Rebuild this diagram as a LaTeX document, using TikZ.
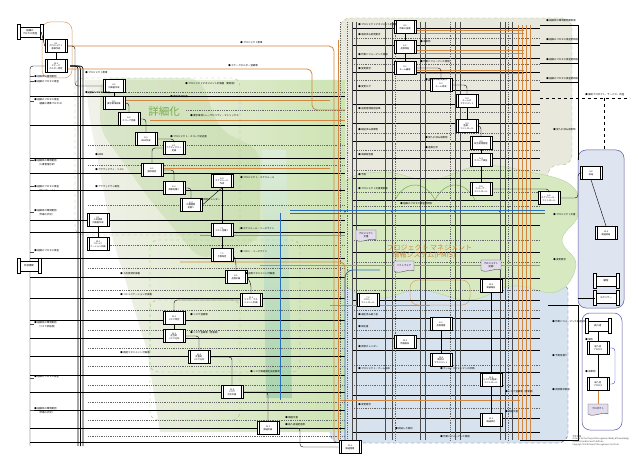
\documentclass[tikz,border=0pt]{standalone}
\usepackage{fontspec}
\setmainfont{Noto Sans CJK JP}
\usetikzlibrary{calc}
\definecolor{orl}{RGB}{210,135,65}
\definecolor{grl}{RGB}{120,170,80}
\definecolor{bgreen}{RGB}{205,228,178}
\definecolor{beige}{RGB}{232,232,220}
\definecolor{bluel}{RGB}{214,226,238}
\definecolor{blueline}{RGB}{40,110,190}
\definecolor{docfill}{RGB}{226,220,236}
\definecolor{panelc}{RGB}{222,228,240}
\definecolor{teal1}{RGB}{110,185,140}
\newcommand\tinyf{\fontsize{2.4}{2.8}\selectfont}
\newcommand\storebars[1]{%
  \draw[line width=0.6, fill=white] ($(#1.north west)+(-1.6,-2)$) rectangle ($(#1.south west)+(1.2,2)$);
  \draw[line width=0.6, fill=white] ($(#1.north east)+(-1.2,-2)$) rectangle ($(#1.south east)+(1.6,2)$);}
\tikzset{
  proc/.style={draw=black, line width=0.6, fill=white, minimum width=22, minimum height=13,
    inner sep=0.3, align=center, font=\fontsize{2.2}{2.6}\selectfont,
    path picture={\draw[line width=0.4]
      ([xshift=1.8pt]path picture bounding box.south west) -- ([xshift=1.8pt]path picture bounding box.north west)
      ([xshift=-1.8pt]path picture bounding box.south east) -- ([xshift=-1.8pt]path picture bounding box.north east);}},
  store/.style={draw, line width=0.5, fill=white, minimum height=10, minimum width=20, inner sep=0.3, align=center, font=\tinyf},
  lbl/.style={font=\tinyf, inner sep=0.2, anchor=west, align=left},
  bline/.style={black, line width=0.4},
  thinl/.style={black!70, line width=0.25},
  dline/.style={black!60, line width=0.3, dashed, dash pattern=on 1pt off 0.8pt},
  oline/.style={orl, line width=0.8, rounded corners=5},
  docpic/.pic={\draw[fill=docfill, draw=black!70, line width=0.4] (-10,-6) -- (10,-6) -- (10,4) .. controls (5,1) and (-5,8) .. (-10,4) -- cycle;}
}
\begin{document}
\begin{tikzpicture}[x=1pt,y=-1pt]
\useasboundingbox (0,0) rectangle (638,468);
\fill[white] (0,0) rectangle (638,468);

% ---------- background regions ----------
\draw[fill=beige, draw=grl!70, dashed, line width=0.4, rounded corners=10]
  (340,18) -- (572,18) -- (572,165) -- (548,165) -- (548,300) -- (340,300) -- cycle;
\draw[fill=bluel, draw=blue!40!gray, dashed, line width=0.4, rounded corners=10]
  (330,282) -- (568,282) -- (568,443) -- (330,443) -- cycle;
\draw[fill=bgreen!80, draw=grl!60, line width=0.3]
  plot[smooth cycle, tension=0.7] coordinates {(345,182) (385,172) (430,180) (480,166) (530,172) (572,186)
  (578,215) (562,240) (576,265) (556,292) (512,286) (470,300) (420,290) (380,298) (346,286) (336,255) (342,220)};
\shade[left color=beige!60, right color=bgreen] (85,80) -- (345,80) -- (345,432) -- (160,432) -- (147,350) -- (113,240) -- (90,120) -- cycle;
\fill[bgreen!70!grl, opacity=0.35, rounded corners=12] (100,78) -- (200,78) -- (220,130) -- (260,150) -- (260,240) -- (200,260) -- (150,200) -- (100,130) -- cycle;
\shade[top color=teal1!20, bottom color=teal1!80, opacity=0.6] (262,150) -- (286,150) -- (292,398) -- (266,398) -- cycle;
\draw[grl!80, dashed, line width=0.35, rounded corners=8] (75,78) rectangle (240,235);
\draw[grl!80, dashed, line width=0.35, rounded corners=8] (150,240) rectangle (300,372);
\draw[orl!80, line width=0.5, rounded corners=8] (42,22) rectangle (72,78);
\draw[orl!80, line width=0.5, rounded corners=8] (410,280) rectangle (470,305);
\draw[grl!80, dashed, line width=0.35, rounded corners=8] (150,300) rectangle (240,420);
% right panels
\draw[fill=panelc, draw=blue!30!gray, line width=0.5, rounded corners=8] (578,150) rectangle (624,308);
\draw[fill=white, draw=blue!30!gray, line width=0.5, rounded corners=8] (582,313) rectangle (622,430);

% green arcs in beige area
\draw[grl, line width=0.5] (395,200) .. controls (405,180) and (425,180) .. (435,200) .. controls (445,180) and (465,180) .. (475,200);

% ---------- long horizontal lines, left ----------
\foreach \y in {96,125,158,173,190,220,232,258,277,298,320,338,356,375,392,410,428,442}
  \draw[bline] (30,\y) -- (345,\y);
\foreach \y in {92,145,165,205,245,268,290,310,330,348,366,385,402,420,436}
  \draw[dline] (88,\y) -- (345,\y);
\draw[dline] (186,110) -- (345,110);
% ---------- right region lines ----------
\foreach \y in {28,45,58,72,90,104,123,141,158,178,200,225,252,278,300,318,338,350,372,395,418,432}
  \draw[bline] (352,\y) -- (540,\y);
\foreach \y in {38,64,80,112,133,150,170,192,206,240,262,290,310,330,365,385,408}
  \draw[dline] (352,\y) -- (540,\y);
\foreach \x in {352,356,385,392,420,425,455,460,500,505,512}
  \draw[thinl] (\x,22) -- (\x,440);
\foreach \x in {340,347,395,450,508}
  \draw[dline] (\x,22) -- (\x,440);
% right strip lines
\foreach \y in {25,43,63,82}
  \draw[bline] (540,\y) -- (578,\y);
\draw[bline] (578,25) -- (578,160);
\draw[black, line width=0.5, dashed] (540,98) -- (630,98);
\draw[black, line width=0.5, dashed] (604,98) -- (604,150);
\draw[bline] (548,305) -- (578,305) -- (578,440) -- (520,440);

% left vertical bundle
\foreach \x in {78,80.5,83}
  \draw[black, line width=0.7, rounded corners=3] (70,66) -- (\x,66) -- (\x,446);
\draw[bline, rounded corners=3] (45,66) -- (30,66) -- (30,446);
\foreach \y in {76,81,101,160,186,212,252,324,378,410}
  \draw[thinl] (30,\y) -- (34,\y);

% orange lines
\draw[oline] (68,46) -- (334,46) -- (334,440);
\draw[oline] (68,69) -- (312,69) -- (312,110) -- (345,110);
\draw[oline] (125,100) -- (330,100);
\draw[oline] (150,120) -- (345,120);
\draw[oline] (160,168) -- (330,168);
\draw[oline] (200,235) -- (345,235);
\draw[oline] (180,262) -- (345,262) -- (345,300);
\draw[oline] (260,265) -- (540,265);
\draw[oline] (330,305) -- (430,305);
\draw[oline] (340,400) -- (520,400);
\foreach \y in {30,33,50,53,70,73}
  \draw[oline, line width=0.6] (417,\y) -- (524,\y);
\foreach \x in {518,522,526,530}
  \draw[oline, line width=0.6] (\x,25) -- (\x,440);
\draw[oline] (338,40) -- (338,440);

% blue lines
\draw[blueline, line width=0.9] (290,210) -- (545,210);
\draw[blueline, line width=0.6] (290,213.5) -- (545,213.5);
\draw[blueline, line width=0.8, rounded corners=6] (280,213.5) -- (280,400);
\draw[blueline, line width=0.8, rounded corners=8] (380,270) -- (345,270) -- (345,440);
\foreach \x in {345,392,455,500} \fill[blueline] (\x,211.5) circle (1.2);

% ---------- processes ----------
\foreach \n/\x/\y/\t in {
 a1/56/46/{4.1\\プロジェクト\\憲章作成},
 a2/56/66/{10.1\\ステーク\\ホルダー特定},
 p1/114/86/{4.2\\計画書作成},
 p2/114/103/{5.1\\要求事項収集},
 p3/129/119/{5.2\\スコープ定義},
 p4/146/139/{5.3\\WBS作成},
 p5/174/148/{6.1\\アクティビティ\\定義},
 p6/152/170/{6.2\\順序設定},
 p7/174/188/{6.3\\資源見積り},
 p8/191/205/{6.4\\所要期間\\見積り},
 p9/222/181/{6.5\\スケジュール\\作成},
 p10/222/230/{7.1\\コスト見積り},
 p11/98/220/{9.1\\人的資源\\計画書作成},
 p12/98/244/{10.2\\コミュニ\\ケーション計画},
 p13/222/255/{7.2\\予算設定},
 p14/236/277/{8.1\\品質計画},
 p15/251/300/{11.1\\リスク・マネ\\ジメント計画},
 p16/174/318/{11.2\\リスク特定},
 p17/174/336/{11.3\\定性的\\リスク分析},
 p18/199/357/{11.4\\定量的\\リスク分析},
 p19/232/392/{11.5\\リスク\\対応計画},
 p20/268/428/{12.1\\調達計画},
 e2/405/27/{4.3\\作業の指揮},
 e3/405/47/{8.2\\品質保証},
 e4/405/68/{9.2\\チーム編成},
 e5/441/85/{9.3\\チーム育成},
 e6/467/101/{9.4\\チームの\\マネジメント},
 e7/467/126/{4.4\\監視・\\コントロール},
 e8/481/143/{4.5\\統合変更管理},
 e9/481/160/{5.4\\スコープ検証},
 e10/481/189/{5.5\\スコープ・\\コントロール},
 e11/549/198/{6.6\\スケジュール・\\コントロール},
 e12/368/300/{7.3\\コスト・\\コントロール},
 e13/441/324/{8.3\\品質管理},
 e14/405/342/{10.3\\情報配布},
 e15/441/360/{10.4\\期待の\\マネジメント},
 e16/491/286/{10.5\\実績報告},
 e17/491/380/{11.6\\リスクの監視・\\コントロール},
 e18/491/420/{12.2\\調達実行},
 e19/350/447/{12.3\\調達管理},
 r1/591/173/{4.6\\終結},
 r2/606/233/{12.4\\調達終結},
 q1/598/348/{納入者\\プロセス},
 q2/598/384/{納入者\\プロセス}}
 \node[proc] (\n) at (\x,\y) {\t};

% connectors between processes
\draw[bline] (a1.south) -- (a2.north);
\draw[bline, rounded corners=3] (a1.east) -- (75,46) -- (75,86) -- (p1.west);
\draw[bline] (p1.south) -- (p2.north);
\draw[bline, rounded corners=3] (p2.east) -- (129,103) -- (p3.north);
\draw[bline, rounded corners=3] (p3.east) -- (146,119) -- (p4.north);
\draw[bline, rounded corners=3] (p4.east) -- (174,139) -- (p5.north);
\draw[bline, rounded corners=3] (p5.west) -- (152,148) -- (p6.north);
\draw[bline, rounded corners=3] (p6.east) -- (174,170) -- (p7.north);
\draw[bline, rounded corners=3] (p7.east) -- (191,188) -- (p8.north);
\draw[bline, rounded corners=3] (p8.east) -- (p9.south);
\draw[bline] (p9.south) -- (p10.north);
\draw[bline] (p10.south) -- (p13.north);
\draw[bline, rounded corners=3] (p13.east) -- (236,262) -- (p14.north);
\draw[bline, rounded corners=3] (p14.east) -- (251,284) -- (p15.north);
\draw[bline, rounded corners=3] (p15.west) -- (174,300) -- (p16.north);
\draw[bline] (p16.south) -- (p17.north);
\draw[bline, rounded corners=3] (p17.east) -- (199,336) -- (p18.north);
\draw[bline, rounded corners=3] (p18.east) -- (232,357) -- (p19.north);
\draw[bline, rounded corners=3] (p19.east) -- (268,392) -- (p20.north);
\draw[bline] (p11.south) -- (p12.north);
\draw[bline, rounded corners=3] (p20.east) -- (300,428) -- (300,447) -- (e19.west);
\draw[bline] (e2.south) -- (e3.north);
\draw[bline] (e3.south) -- (e4.north);
\draw[bline, rounded corners=3] (e4.east) -- (441,68) -- (e5.north);
\draw[bline, rounded corners=3] (e5.east) -- (467,85) -- (e6.north);
\draw[bline] (e6.south) -- (e7.north);
\draw[bline, rounded corners=3] (e7.east) -- (481,126) -- (e8.north);
\draw[bline] (e8.south) -- (e9.north);
\draw[bline] (e9.south) -- (e10.north);
\draw[bline, rounded corners=3] (e10.east) -- (549,189) -- (e11.north);
\draw[bline] (e13.south) -- (e15.north);
\draw[bline] (e16.south) -- (e17.north);
\draw[bline] (e17.south) -- (e18.north);
\draw[bline, rounded corners=3] (e11.east) -- (578,198) -- (578,173) -- (r1.west);
\draw[bline] (r1.south) -- (606,226);
\draw[bline] (q1.south) -- (q2.north);
\draw[blue!50!gray, line width=0.4, rounded corners=3] (q1.east) -- (615,348) -- (615,384) -- (q2.east);

% stores (external entities)
\node[store, minimum width=22] (s1) at (30,32) {組織の\\プロセス資産};
\storebars{s1}
\node[store, minimum width=20] (s2) at (29,266) {外部機関};
\storebars{s2}
\node[store, minimum width=22] (s3) at (606,281) {顧客};
\storebars{s3}
\node[store, minimum width=22] (s4) at (606,298) {スポンサー};
\storebars{s4}
\node[store, minimum width=22] (s5) at (598,326) {納入者};
\storebars{s5}
\draw[bline] (s1.east) -- (a1.west);
\draw[bline] (s5.south) -- (q1.north);
\draw[bline, rounded corners=3] (s4.west) -- (578,298);

% documents
\pic at (366,236) {docpic};
\node[font=\tinyf, align=center] (d1) at (366,235) {プロジェクト\\文書};
\pic at (404,267) {docpic};
\node[font=\tinyf, align=center] (d2) at (404,266) {ソフトウェア};
\pic at (491,266) {docpic};
\node[font=\tinyf, align=center] (d3) at (491,265) {プロジェクト\\記録};
\pic at (598,410) {docpic};
\node[font=\tinyf, align=center] (d4) at (598,409) {プロダクト};
\draw[orl, line width=0.5] (q2.south) -- (598,404);

% ---------- big labels ----------
\node[text=grl, font=\fontsize{10.5}{11}\selectfont] (lb1) at (164,112) {詳細化};
\node[text=orl, font=\fontsize{7}{8}\selectfont\itshape, align=left, anchor=west] (lb2) at (383,252) {プロジェクト マネジメント\\[-1pt]\hspace*{6pt}情報システム(PMIS)};

% ---------- small labels ----------
\foreach \x/\y/\t in {
 34/77/{● 組織体の環境要因}, 34/82/{● 組織のプロセス資産},
 34/100/{● 組織のプロセス資産}, 37/104/{（組織の標準プロセス）},
 34/161/{● 組織体の環境要因}, 37/165/{（人事管理方針）},
 34/187/{● 組織のプロセス資産}, 37/191/{（テンプレート）},
 34/211/{● 組織体の環境要因}, 37/215/{（市場の状況）},
 34/251/{● 組織のプロセス資産}, 34/323/{● 組織体の環境要因},
 37/327/{（リスク許容度）}, 34/377/{● 組織のプロセス資産},
 34/409/{● 組織体の環境要因}, 37/413/{（市場の状況）},
 240/43/{● プロジェクト憲章}, 228/66/{● ステークホルダー登録簿},
 85/73/{● プロジェクト憲章}, 85/93/{● 組織のプロセス資産},
 185/84/{● プロジェクトマネジメント計画書（更新版）},
 170/97/{● 要求事項文書}, 190/116/{● 要求事項トレーサビリティ・マトリックス},
 170/137/{● プロジェクト・スコープ記述書}, 95/155/{● WBS}, 95/170/{● アクティビティ・リスト},
 95/187/{● アクティビティ属性}, 200/200/{● 資源カレンダー},
 240/178/{● プロジェクト・スケジュール}, 240/229/{● スケジュール・ベースライン},
 240/252/{● コスト・ベースライン}, 245/274/{● 品質マネジメント計画書},
 120/274/{● 人的資源計画書}, 120/295/{● コミュニケーション計画書},
 190/315/{● リスク登録簿}, 190/333/{● リスク登録簿（更新版）},
 120/353/{● 調達マネジメント計画書}, 250/372/{● リスク関連契約決定事項},
 285/418/{● 調達文書}, 285/425/{● 納入者選定基準},
 358/25/{● プロジェクトマネジメント計画書}, 358/35/{● 承認済み変更要求},
 358/55/{● 作業パフォーマンス情報}, 358/69/{● 変更要求},
 420/42/{● 成果物}, 420/62/{● 作業パフォーマンス情報}, 425/80/{● 承認済み変更要求},
 358/87/{● 変更ログ}, 358/109/{● 品質管理測定結果},
 358/130/{● 検証済み成果物}, 425/138/{● 受入れ済み成果物},
 425/148/{● 差異分析}, 358/155/{● 実績報告書}, 358/175/{● 予測},
 358/189/{● プロジェクト文書更新版}, 400/204/{● 組織のプロセス資産更新版},
 358/315/{● 選定済み納入者}, 358/327/{● 契約書},
 358/347/{● 資源カレンダー}, 358/369/{● プロジェクト・チーム任命},
 440/369/{● チーム・パフォーマンス評価}, 358/405/{● 変更要求},
 395/429/{● 終結した契約}, 505/392/{● リスク登録簿（更新版）},
 505/412/{● 調達文書}, 440/437/{● 作業パフォーマンス情報},
 546/21/{● 組織体の環境要因更新版}, 546/40/{● 組織のプロセス資産更新版},
 546/60/{● 組織のプロセス資産更新版}, 546/79/{● 組織のプロセス資産更新版},
 585/95/{● 最終プロダクト、サービス、所産},
 553/130/{● 受入れ済み成果物}, 553/215/{● プロジェクト文書}, 553/260/{● 変更要求},
 552/322/{● 作業パフォーマンス測定結果}, 552/356/{● 予算見積り},
 552/390/{● 資源要求事項}, 585/340/{● 契約}, 585/372/{● 成果物}}
 \node[lbl] at (\x,\y) {\t};

\node[font=\fontsize{2.2}{2.6}\selectfont, text=black!70, align=left, anchor=north west] (note) at (569,432)
 {参考文献：\\A Guide to the Project Management Body of Knowledge\\(PMBOK Guide) Fourth Edition\\Copyright 2008 Project Management Institute};
\end{tikzpicture}
\end{document}
